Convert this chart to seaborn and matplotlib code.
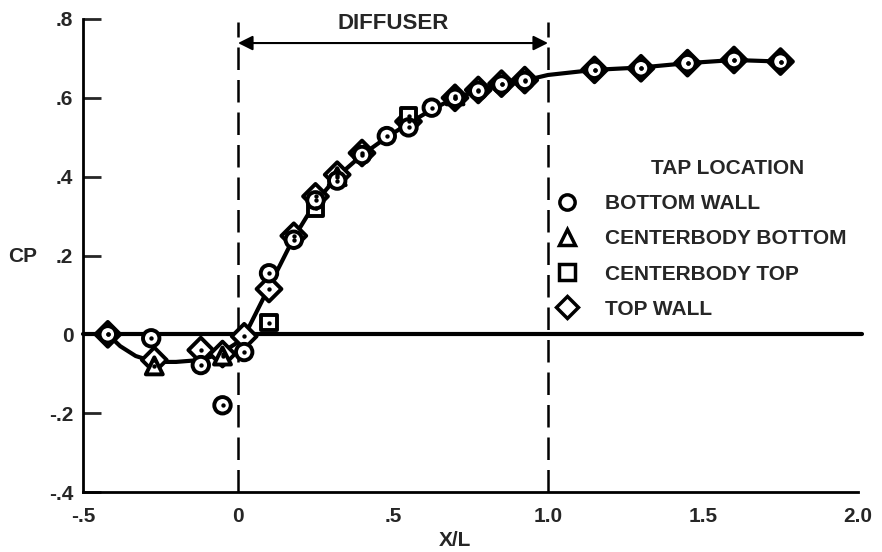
import matplotlib
matplotlib.use("Agg")
import matplotlib.pyplot as plt
from matplotlib.lines import Line2D
import pandas as pd
import seaborn as sns

# tap readings (X/L, CP)
bottom_wall_x = [-0.42, -0.28, -0.12, -0.05, 0.02, 0.10, 0.18, 0.25, 0.32, 0.40, 0.48, 0.55,
                 0.625, 0.70, 0.775, 0.85, 0.925, 1.15, 1.30, 1.45, 1.60, 1.75]
bottom_wall_cp = [0.0, -0.01, -0.078, -0.18, -0.045, 0.155, 0.24, 0.34, 0.39, 0.455, 0.503, 0.525,
                  0.575, 0.60, 0.618, 0.634, 0.643, 0.671, 0.675, 0.688, 0.696, 0.692]

cb_bottom_x = [-0.27, -0.05, 0.32, 0.70]
cb_bottom_cp = [-0.08, -0.055, 0.40, 0.605]

cb_top_x = [0.10, 0.25, 0.55]
cb_top_cp = [0.03, 0.32, 0.555]

top_wall_x = [-0.42, -0.27, -0.12, -0.05, 0.02, 0.10, 0.18, 0.25, 0.32, 0.40, 0.55,
              0.70, 0.775, 0.85, 0.925, 1.15, 1.30, 1.45, 1.60, 1.75]
top_wall_cp = [0.0, -0.065, -0.04, -0.05, -0.005, 0.115, 0.25, 0.35, 0.405, 0.46, 0.54,
               0.60, 0.62, 0.636, 0.645, 0.671, 0.675, 0.688, 0.696, 0.692]

# faired curve through the data
fit_x = [-0.42, -0.38, -0.33, -0.27, -0.20, -0.12, -0.06, 0.0, 0.03, 0.10, 0.18, 0.25, 0.32,
         0.40, 0.48, 0.55, 0.625, 0.70, 0.775, 0.85, 0.93, 1.00, 1.15, 1.30, 1.45, 1.60, 1.75]
fit_cp = [0.0, -0.03, -0.055, -0.07, -0.07, -0.065, -0.05, -0.02, 0.01, 0.12, 0.245, 0.335, 0.40,
          0.455, 0.50, 0.535, 0.57, 0.60, 0.618, 0.633, 0.645, 0.658, 0.671, 0.677, 0.688, 0.696, 0.692]

x_ticks = [-0.5, 0.0, 0.5, 1.0, 1.5, 2.0]
x_tick_labels = ["-.5", "0", ".5", "1.0", "1.5", "2.0"]
y_ticks = [-0.4, -0.2, 0.0, 0.2, 0.4, 0.6, 0.8]
y_tick_labels = ["-.4", "-.2", "0", ".2", ".4", ".6", ".8"]
diffuser_x = [0.0, 1.0]

taps = ["BOTTOM WALL", "CENTERBODY BOTTOM", "CENTERBODY TOP", "TOP WALL"]
markers = {"BOTTOM WALL": "o", "CENTERBODY BOTTOM": "^", "CENTERBODY TOP": "s", "TOP WALL": "D"}
sizes = {"BOTTOM WALL": 140, "CENTERBODY BOTTOM": 150, "CENTERBODY TOP": 120, "TOP WALL": 160}

# diamonds first so circles sit on top of them
df = pd.concat([
    pd.DataFrame({"x": top_wall_x, "cp": top_wall_cp, "tap": "TOP WALL"}),
    pd.DataFrame({"x": cb_top_x, "cp": cb_top_cp, "tap": "CENTERBODY TOP"}),
    pd.DataFrame({"x": cb_bottom_x, "cp": cb_bottom_cp, "tap": "CENTERBODY BOTTOM"}),
    pd.DataFrame({"x": bottom_wall_x, "cp": bottom_wall_cp, "tap": "BOTTOM WALL"}),
], ignore_index=True)

sns.set_theme(style="ticks")
plt.rcParams["font.family"] = ["Liberation Sans", "DejaVu Sans"]
plt.rcParams["font.weight"] = "bold"

fig = plt.figure(figsize=(8.82, 5.52), dpi=100)
ax = fig.add_axes([83 / 882, 60 / 552, 775 / 882, 473 / 552])

ax.axhline(0, xmin=0, xmax=1.005, color="black", lw=3, clip_on=False, zorder=2)
for xv in diffuser_x:
    ax.plot([xv, xv], [-0.4, 0.792], color="black", lw=1.8, dashes=(9, 4), zorder=1, clip_on=False)

sns.lineplot(x=fit_x, y=fit_cp, sort=False, estimator=None, color="black", lw=3, ax=ax, zorder=2)
sns.scatterplot(data=df, x="x", y="cp", style="tap", markers=markers, size="tap", sizes=sizes,
                color="white", edgecolor="black", linewidth=2.8, legend=False, ax=ax, zorder=3)
sns.scatterplot(data=df, x="x", y="cp", marker="o", s=10, color="black", linewidth=0,
                legend=False, ax=ax, zorder=4)

ax.annotate("", xy=(0.0, 0.739), xytext=(1.0, 0.739),
            arrowprops=dict(arrowstyle="<|-|>", color="black", lw=1.5, mutation_scale=22,
                            shrinkA=0, shrinkB=0), annotation_clip=False)
ax.text(0.5, 0.789, "DIFFUSER", ha="center", va="center", fontsize=16, fontweight="bold")

ax.set_xlim(-0.5, 2.0)
ax.set_ylim(-0.4, 0.8)
ax.set_xticks(x_ticks)
ax.set_xticklabels(x_tick_labels)
ax.set_yticks(y_ticks)
ax.set_yticklabels(y_tick_labels)
ax.tick_params(axis="x", length=0, pad=11, labelsize=15)
ax.tick_params(axis="y", direction="in", length=13, width=2, pad=7, labelsize=15)
ax.set_xlabel("")
ax.set_ylabel("")
sns.despine(ax=ax)
for side in ["left", "bottom"]:
    ax.spines[side].set_linewidth(2)
    ax.spines[side].set_color("black")

fig.text(22.5 / 882, 1 - 256 / 552, "CP", ha="center", va="center", fontsize=15, fontweight="bold")
fig.text(455 / 882, 1 - 541 / 552, "X/L", ha="center", va="center", fontsize=15, fontweight="bold")
fig.text(728 / 882, 1 - 169 / 552, "TAP LOCATION", ha="center", va="center", fontsize=15,
         fontweight="bold")

handles = [Line2D([], [], marker=markers[t], ls="none", mfc="white", mec="black", mew=2.5, ms=11)
           for t in taps]
ax.legend(handles, taps, loc="upper left", bbox_to_anchor=(557 / 882, 1 - 194 / 552),
          bbox_transform=fig.transFigure, frameon=False, prop={"size": 15, "weight": "bold"},
          handlelength=1.0, handletextpad=1.3, labelspacing=0.78, borderpad=0, borderaxespad=0)

fig.savefig("out.png", dpi=100)
